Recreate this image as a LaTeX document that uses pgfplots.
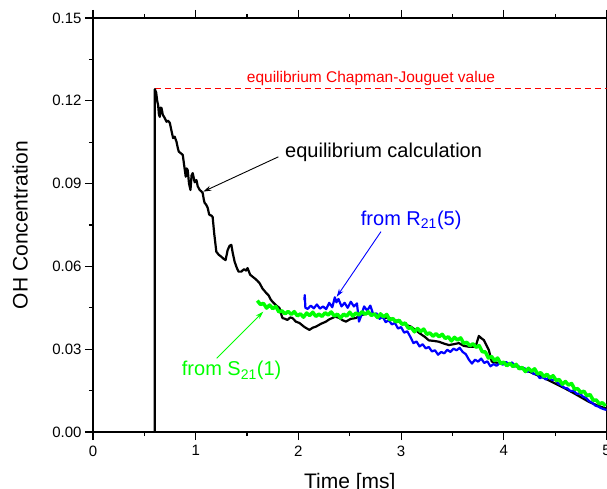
\documentclass[border=0pt]{standalone}
\usepackage{fontspec}
\setmainfont{Liberation Sans}
\usepackage{pgfplots}
\pgfplotsset{compat=1.18}
\usetikzlibrary{arrows.meta}
\definecolor{cgreen}{RGB}{0,255,0}
\definecolor{cblue}{RGB}{0,0,255}
\definecolor{cred}{RGB}{255,0,0}
\begin{document}
\begin{tikzpicture}
\begin{axis}[
  scale only axis, width=513.5pt, height=414pt,
  xmin=0, xmax=5, ymin=0, ymax=0.15,
  xtick={0,1,2,3,4,5},
  ytick={0,0.03,0.06,0.09,0.12,0.15},
  minor x tick num=1, minor y tick num=1,
  tick align=outside,
  major tick length=8pt, minor tick length=4pt,
  axis line style={line width=1.2pt},
  every tick/.style={line width=1.2pt, black},
  yticklabel style={/pgf/number format/fixed, /pgf/number format/precision=2, /pgf/number format/fixed zerofill},
  xticklabel style={yshift=-2pt},
  /pgf/number format/assume math mode=true,
  tick label style={font=\fontsize{15}{18}\selectfont},
  scaled y ticks=false,
  xlabel={Time [ms]}, ylabel={OH Concentration},
  label style={font=\fontsize{21}{24}\selectfont},
  xlabel style={at={(axis description cs:0.5,-0.124)}, anchor=center},
  ylabel style={at={(axis description cs:-0.142,0.5)}, anchor=center},
]
% equilibrium Chapman-Jouguet value
\addplot[cred, line width=1.1pt, dash pattern=on 6pt off 4pt] coordinates {(0.602,0.1243) (5,0.1243)};
% equilibrium calculation
\addplot[black, line width=2.2pt, line join=round] coordinates {
(0.602,0) (0.602,0.1242) (0.615,0.1230) (0.625,0.1200) (0.634,0.1185) (0.642,0.1150) (0.650,0.1142)
(0.658,0.1175) (0.667,0.1174) (0.680,0.1149) (0.695,0.1140) (0.716,0.1124) (0.730,0.1128) (0.748,0.1120)
(0.765,0.1090) (0.780,0.1065) (0.795,0.1070) (0.813,0.1052) (0.825,0.1030) (0.835,0.1016) (0.855,0.1010)
(0.874,0.1004) (0.890,0.0960) (0.903,0.0925) (0.912,0.0955) (0.922,0.0949) (0.935,0.0900) (0.949,0.0877)
(0.960,0.0930) (0.971,0.0938) (0.990,0.0905) (1.007,0.0913) (1.020,0.0890) (1.039,0.0877) (1.055,0.0872)
(1.068,0.0866) (1.080,0.0840) (1.087,0.0830) (1.100,0.0825) (1.117,0.0812) (1.130,0.0790) (1.136,0.0786)
(1.150,0.0785) (1.165,0.0779) (1.180,0.0720) (1.201,0.0653) (1.225,0.0642) (1.250,0.0635) (1.270,0.0628)
(1.291,0.0623) (1.311,0.0659) (1.330,0.0675) (1.347,0.0678) (1.360,0.0650) (1.379,0.0617) (1.400,0.0595)
(1.417,0.0581) (1.444,0.0581) (1.470,0.0590) (1.490,0.0585) (1.505,0.0594) (1.530,0.0570) (1.553,0.0563)
(1.580,0.0555) (1.600,0.0548) (1.621,0.0540) (1.650,0.0520) (1.686,0.0504) (1.710,0.0495) (1.730,0.0480)
(1.748,0.0472) (1.780,0.0460) (1.816,0.0449) (1.830,0.0430) (1.845,0.0413) (1.870,0.0410) (1.893,0.0406)
(1.920,0.0415) (1.942,0.0413) (1.975,0.0400) (2.010,0.0395) (2.060,0.0380) (2.107,0.0370) (2.140,0.0378)
(2.172,0.0382) (2.220,0.0392) (2.269,0.0400) (2.300,0.0408) (2.330,0.0413) (2.360,0.0418) (2.398,0.0413)
(2.430,0.0405) (2.463,0.0400) (2.510,0.0410) (2.560,0.0413) (2.590,0.0420) (2.621,0.0424) (2.650,0.0428)
(2.689,0.0431) (2.740,0.0425) (2.786,0.0418) (2.830,0.0414) (2.883,0.0413) (2.950,0.0404) (3.010,0.0395)
(3.050,0.0388) (3.094,0.0382) (3.140,0.0370) (3.175,0.0359) (3.230,0.0345) (3.270,0.0332) (3.320,0.0330)
(3.369,0.0327) (3.420,0.0320) (3.466,0.0315) (3.510,0.0318) (3.563,0.0322) (3.610,0.0312) (3.660,0.0309)
(3.725,0.0309) (3.757,0.0348) (3.780,0.0340) (3.806,0.0333) (3.830,0.0315) (3.854,0.0297) (3.883,0.0255)
(3.920,0.0252) (3.951,0.0250) (4.010,0.0248) (4.078,0.0243) (4.150,0.0235) (4.211,0.0225) (4.300,0.0210)
(4.390,0.0196) (4.460,0.0183) (4.530,0.0170) (4.600,0.0157) (4.680,0.0141) (4.750,0.0126) (4.830,0.0109)
(4.900,0.0098) (4.980,0.0087) (5.0,0.0085)
};
% from R21(5)
\addplot[cblue, line width=2.2pt, line join=round] coordinates {
(2.058,0.0478) (2.062,0.0496) (2.068,0.0450) (2.09,0.0446) (2.12,0.0458) (2.15,0.0448) (2.18,0.0462)
(2.21,0.0447) (2.24,0.0455) (2.27,0.0445) (2.30,0.0468) (2.33,0.0452) (2.355,0.0488) (2.37,0.0470)
(2.39,0.0482) (2.42,0.0455) (2.45,0.0468) (2.48,0.0450) (2.51,0.0472) (2.54,0.0455) (2.57,0.0466)
(2.59,0.0400) (2.61,0.0420) (2.64,0.0455) (2.67,0.0440) (2.70,0.0458) (2.73,0.0425) (2.76,0.0430)
(2.79,0.0410) (2.82,0.0418) (2.85,0.0398) (2.88,0.0405) (2.91,0.0390) (2.94,0.0395) (2.97,0.0375)
(3.00,0.0380) (3.03,0.0360) (3.06,0.0365) (3.09,0.0345) (3.12,0.0322) (3.15,0.0328) (3.18,0.0310)
(3.21,0.0318) (3.24,0.0303) (3.27,0.0308) (3.30,0.0292) (3.33,0.0296) (3.36,0.0280) (3.39,0.0290)
(3.42,0.0285) (3.45,0.0298) (3.48,0.0290) (3.51,0.0302) (3.54,0.0296) (3.57,0.0305) (3.60,0.0290)
(3.63,0.0282) (3.66,0.0262) (3.69,0.0248) (3.72,0.0262) (3.75,0.0255) (3.78,0.0266) (3.81,0.0250)
(3.84,0.0256) (3.87,0.0238) (3.90,0.0246) (3.93,0.0240) (3.96,0.0250) (3.99,0.0244) (4.02,0.0254)
(4.05,0.0246) (4.08,0.0252) (4.11,0.0238) (4.14,0.0240) (4.17,0.0228) (4.20,0.0232) (4.23,0.0218)
(4.26,0.0224) (4.29,0.0210) (4.32,0.0212) (4.35,0.0195) (4.38,0.0200) (4.41,0.0190) (4.44,0.0198)
(4.47,0.0188) (4.50,0.0192) (4.53,0.0175) (4.56,0.0170) (4.59,0.0160) (4.62,0.0158) (4.65,0.0148)
(4.68,0.0150) (4.71,0.0138) (4.74,0.0140) (4.77,0.0128) (4.80,0.0124) (4.83,0.0112) (4.86,0.0106)
(4.89,0.0096) (4.92,0.0092) (4.95,0.0086) (4.98,0.0082) (5.00,0.0080)
};
% from S21(1)
\addplot[cgreen, line width=3.5pt, line join=round] coordinates {
(1.60,0.0476) (1.63,0.0462) (1.66,0.0466) (1.69,0.0449) (1.72,0.0460) (1.75,0.0447) (1.78,0.0455)
(1.81,0.0435) (1.84,0.0439) (1.87,0.0428) (1.90,0.0437) (1.93,0.0426) (1.96,0.0436) (1.99,0.0421)
(2.02,0.0428) (2.05,0.0416) (2.08,0.0431) (2.11,0.0422) (2.14,0.0434) (2.17,0.0419) (2.20,0.0427)
(2.23,0.0419) (2.26,0.0432) (2.29,0.0424) (2.32,0.0435) (2.35,0.0420) (2.38,0.0427) (2.41,0.0413)
(2.44,0.0427) (2.47,0.0420) (2.50,0.0434) (2.53,0.0420) (2.56,0.0431) (2.59,0.0424) (2.62,0.0436)
(2.65,0.0426) (2.68,0.0436) (2.71,0.0422) (2.74,0.0428) (2.77,0.0415) (2.80,0.0428) (2.83,0.0417)
(2.86,0.0426) (2.89,0.0406) (2.92,0.0411) (2.95,0.0399) (2.98,0.0405) (3.01,0.0390) (3.04,0.0395)
(3.07,0.0376) (3.10,0.0378) (3.13,0.0363) (3.16,0.0375) (3.19,0.0364) (3.22,0.0373) (3.25,0.0354)
(3.28,0.0359) (3.31,0.0347) (3.34,0.0356) (3.37,0.0345) (3.40,0.0354) (3.43,0.0339) (3.46,0.0345)
(3.49,0.0330) (3.52,0.0343) (3.55,0.0333) (3.58,0.0341) (3.61,0.0321) (3.64,0.0325) (3.67,0.0312)
(3.70,0.0320) (3.73,0.0307) (3.76,0.0313) (3.79,0.0291) (3.82,0.0290) (3.85,0.0268) (3.88,0.0274)
(3.91,0.0259) (3.94,0.0268) (3.97,0.0248) (4.00,0.0253) (4.03,0.0240) (4.06,0.0249) (4.09,0.0237)
(4.12,0.0245) (4.15,0.0229) (4.18,0.0234) (4.21,0.0219) (4.24,0.0231) (4.27,0.0220) (4.30,0.0229)
(4.33,0.0210) (4.36,0.0215) (4.39,0.0201) (4.42,0.0209) (4.45,0.0196) (4.48,0.0204) (4.51,0.0187)
(4.54,0.0190) (4.57,0.0173) (4.60,0.0183) (4.63,0.0170) (4.66,0.0176) (4.69,0.0155) (4.72,0.0157)
(4.75,0.0143) (4.78,0.0148) (4.81,0.0131) (4.84,0.0136) (4.87,0.0115) (4.90,0.0116) (4.93,0.0102)
(4.96,0.0106) (4.99,0.0094)
};
% annotations
\node[anchor=base west, text=cred, font=\fontsize{15.5}{18}\selectfont, inner sep=0pt] at (axis cs:1.497,0.1266) {equilibrium Chapman-Jouguet value};
\node[anchor=base west, font=\fontsize{20}{24}\selectfont, inner sep=0pt] at (axis cs:1.870,0.0996) {equilibrium calculation};
\draw[black, line width=0.9pt, -{Stealth[length=8pt,width=5pt]}] (axis cs:1.805,0.0997) -- (axis cs:1.074,0.0871);
\node[anchor=base west, text=cblue, font=\fontsize{20}{24}\selectfont, inner sep=0pt] at (axis cs:2.607,0.0750) {from R\textsubscript{21}(5)};
\draw[cblue, line width=0.9pt, -{Stealth[length=8pt,width=5pt]}] (axis cs:2.804,0.0726) -- (axis cs:2.373,0.0490);
\node[anchor=base west, text=cgreen, font=\fontsize{20}{24}\selectfont, inner sep=0pt] at (axis cs:0.864,0.0203) {from S\textsubscript{21}(1)};
\draw[cgreen, line width=0.9pt, -{Stealth[length=8pt,width=5pt]}] (axis cs:1.204,0.0267) -- (axis cs:1.658,0.0436);
\end{axis}
\pgfresetboundingbox
\path[use as bounding box] ([shift={(-93pt,-56pt)}]current axis.south west) rectangle ([shift={(0.5pt,18pt)}]current axis.north east);
\end{tikzpicture}
\end{document}
